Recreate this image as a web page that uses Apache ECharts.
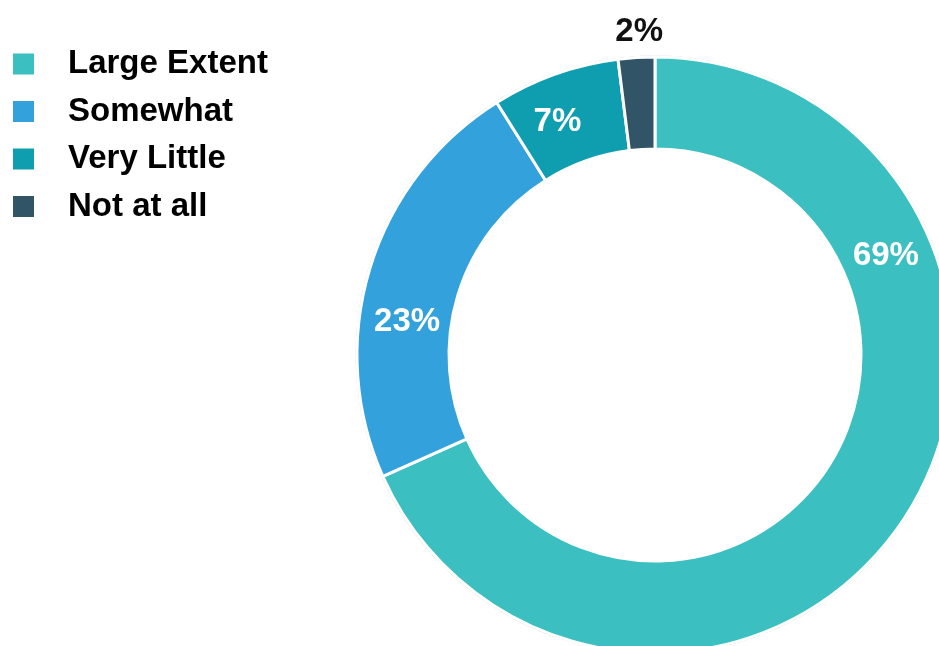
<!DOCTYPE html>
<html>
<head>
<meta charset="utf-8">
<script src="https://cdn.jsdelivr.net/npm/echarts@6/dist/echarts.min.js"></script>
<style>
  html, body { margin: 0; padding: 0; background: #ffffff; }
  #chart { width: 939px; height: 646px; }
</style>
</head>
<body>
<div id="chart"></div>
<script>
// Response categories and their shares (percent)
const categories = ['Large Extent', 'Somewhat', 'Very Little', 'Not at all'];
const shares = [69, 23, 7, 2];

// Slice colours, in category order
const sliceColors = ['#3BBFC1', '#33A1DB', '#0F9DB0', '#325467'];
// Label colour per slice (the thin slice has its label outside, in black)
const labelColors = ['#ffffff', '#ffffff', '#ffffff', '#111111'];
// Label nudges from the default in-ring position
const labelShift = [[17, -238], [-4, 41], [-12, 7], [0, -69]];

const chart = echarts.init(document.getElementById('chart'), null, { renderer: 'canvas' });

const center = [655, 355];

chart.setOption({
  animation: false,
  color: sliceColors,
  legend: {
    orient: 'vertical',
    left: 11,
    top: 46,
    padding: 0,
    icon: 'rect',
    itemWidth: 23,
    itemHeight: 23,
    itemGap: 11.5,
    data: categories,
    textStyle: {
      fontFamily: '"Liberation Sans", Arial, sans-serif',
      fontWeight: 'bold',
      fontSize: 33,
      color: '#000000',
      padding: [0, 0, 0, 28],
      lineHeight: 36
    },
    selectedMode: false
  },
  series: [
    {
      // thin grey rim around the outside of the ring
      type: 'pie',
      silent: true,
      center: center,
      radius: [297, 299.5],
      startAngle: 90,
      z: 1,
      label: { show: false },
      labelLine: { show: false },
      itemStyle: { color: '#d4d4d4' },
      data: [{ value: 1, name: '' }],
      legendHoverLink: false
    },
    {
      type: 'pie',
      center: center,
      radius: [206, 298],
      startAngle: 90,
      clockwise: true,
      z: 2,
      itemStyle: {
        borderColor: '#ffffff',
        borderWidth: 3
      },
      label: {
        show: true,
        position: 'inside',
        formatter: p => p.value + '%',
        fontFamily: '"Liberation Sans", Arial, sans-serif',
        fontWeight: 'bold',
        fontSize: 33
      },
      labelLine: { show: false },
      labelLayout: p => ({ dx: labelShift[p.dataIndex][0], dy: labelShift[p.dataIndex][1] }),
      data: categories.map((name, i) => ({
        name: name,
        value: shares[i],
        label: { color: labelColors[i] }
      }))
    }
  ]
});
</script>
</body>
</html>
